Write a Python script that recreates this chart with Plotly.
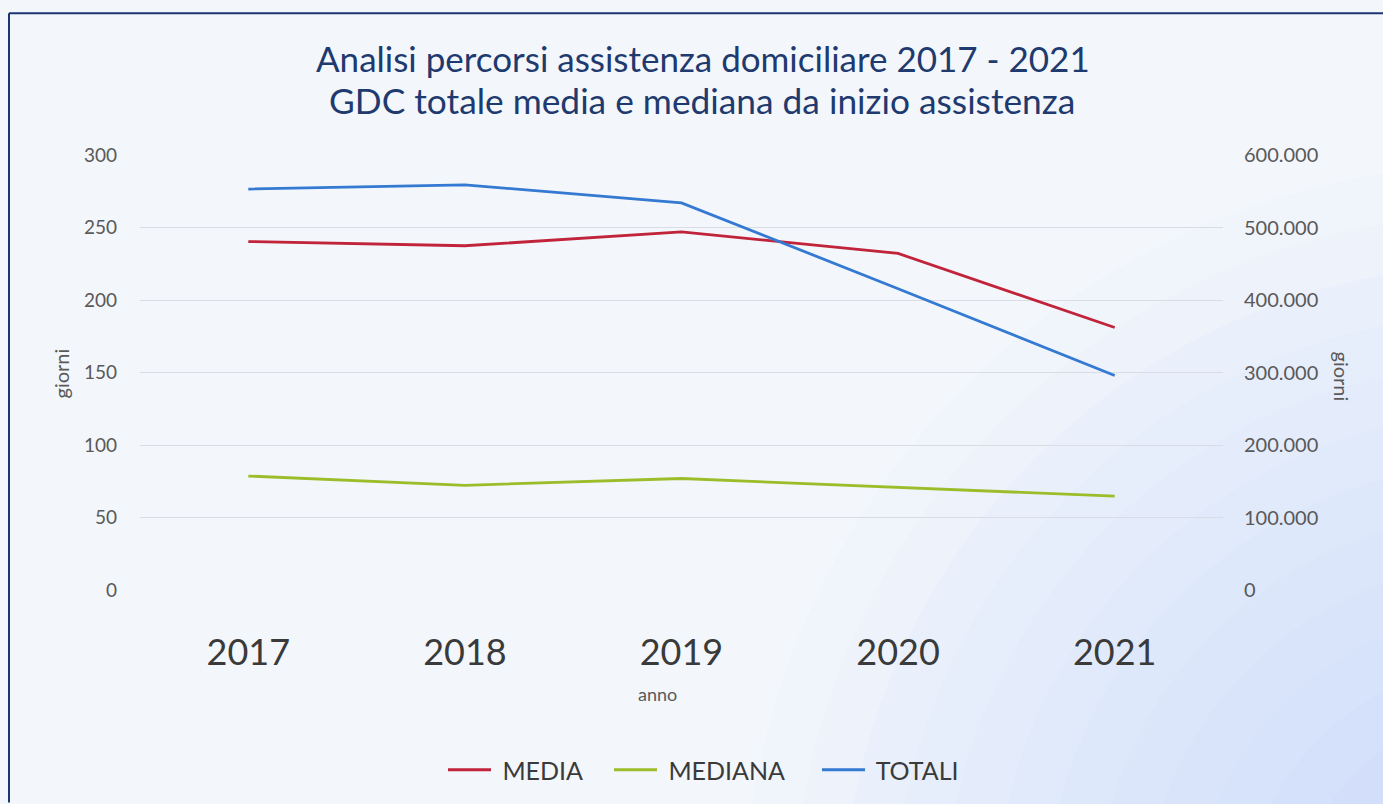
import plotly.graph_objects as go

# Anni e serie (giorni di cura)
anni = ["2017", "2018", "2019", "2020", "2021"]
media = [240.3, 237.4, 247.0, 232.1, 181.0]
mediana = [78.6, 72.2, 76.9, 70.9, 64.7]
totali = [553000, 558800, 534000, 415600, 295900]

left_ticks = [0, 50, 100, 150, 200, 250, 300]
right_ticks = [0, 100000, 200000, 300000, 400000, 500000, 600000]
right_labels = ["0", "100.000", "200.000", "300.000", "400.000", "500.000", "600.000"]

W, H = 1383, 804
L, R, T, B = 140, 1223, 155, 591  # plot area in pixels


def px_x(x):
    return (x - L) / (R - L)


def px_y(y):
    return (B - y) / (B - T)


FONT = "Lato"
GREY = "#595959"
TITLE_BLUE = "#1e3a6e"
LEGEND_Y = px_y(770)

fig = go.Figure()
fig.add_trace(go.Scatter(x=anni, y=media, name=" MEDIA", mode="lines",
                         line=dict(color="#c0233a", width=2.8), legend="legend"))
fig.add_trace(go.Scatter(x=anni, y=mediana, name=" MEDIANA", mode="lines",
                         line=dict(color="#9cbd2a", width=2.8), legend="legend2"))
fig.add_trace(go.Scatter(x=anni, y=totali, name=" TOTALI", mode="lines",
                         line=dict(color="#3479d2", width=2.8), yaxis="y2",
                         legend="legend3"))


def legend_box(x_px):
    return dict(
        orientation="h", x=px_x(x_px), xanchor="left",
        y=LEGEND_Y, yanchor="middle",
        font=dict(size=25, color="#3a3a3a"), bgcolor="rgba(0,0,0,0)",
        itemwidth=43,
    )


fig.update_layout(
    width=W, height=H,
    margin=dict(l=L, r=W - R, t=T, b=H - B, pad=0),
    paper_bgcolor="#f3f6fb",
    plot_bgcolor="rgba(0,0,0,0)",
    separators=",.",
    font=dict(family=FONT, color=GREY),
    xaxis=dict(
        type="category", range=[-0.5, 4.5], showgrid=False, zeroline=False,
        showline=False, ticks="", tickfont=dict(size=36, color="#3a3a3a"),
        ticklabelstandoff=38,
    ),
    yaxis=dict(
        range=[0, 300], tickvals=left_ticks, showgrid=True,
        gridcolor="#d9dce3", gridwidth=1, zeroline=False, showline=False,
        ticks="", tickfont=dict(size=19, color=GREY), ticklabelstandoff=22,
    ),
    yaxis2=dict(
        range=[0, 600000], tickvals=right_ticks, ticktext=right_labels,
        overlaying="y", side="right", showgrid=False, zeroline=False,
        showline=False, ticks="", tickfont=dict(size=20, color=GREY),
        ticklabelstandoff=20,
    ),
    legend=legend_box(443),
    legend2=legend_box(609),
    legend3=legend_box(817),
    showlegend=True,
)

# Leggera sfumatura azzurra verso l'angolo in basso a destra
for i in range(14):
    r = 760 - i * 50
    fig.add_shape(type="circle", xref="paper", yref="paper", layer="below",
                  x0=px_x(W + 120 - r), x1=px_x(W + 120 + r),
                  y0=px_y(H + 120 + r), y1=px_y(H + 120 - r),
                  fillcolor="rgba(150,185,240,0.026)", line=dict(width=0))

# Titolo su due righe
fig.add_annotation(text="Analisi percorsi assistenza domiciliare 2017 - 2021",
                   x=px_x(703), y=px_y(58), xref="paper", yref="paper",
                   xanchor="center", yanchor="middle", showarrow=False,
                   font=dict(size=35, color=TITLE_BLUE))
fig.add_annotation(text="GDC totale media e mediana da inizio assistenza",
                   x=px_x(702), y=px_y(100), xref="paper", yref="paper",
                   xanchor="center", yanchor="middle", showarrow=False,
                   font=dict(size=35.3, color=TITLE_BLUE))

# Titoli degli assi
fig.add_annotation(text="giorni", x=px_x(61), y=px_y(374), xref="paper", yref="paper",
                   xanchor="center", yanchor="middle",
                   textangle=-90, showarrow=False, font=dict(size=20, color=GREY))
fig.add_annotation(text="giorni", x=px_x(1342), y=px_y(377), xref="paper", yref="paper",
                   xanchor="center", yanchor="middle",
                   textangle=90, showarrow=False, font=dict(size=20, color=GREY))
fig.add_annotation(text="anno", x=px_x(657), y=px_y(695), xref="paper", yref="paper",
                   xanchor="center", yanchor="middle",
                   showarrow=False, font=dict(size=18, color=GREY))

# Cornice del riquadro del grafico
frame = dict(color="#1d3473", width=2)
fig.add_shape(type="line", xref="paper", yref="paper",
              x0=px_x(9), x1=px_x(1383), y0=px_y(13), y1=px_y(13), line=frame)
fig.add_shape(type="line", xref="paper", yref="paper",
              x0=px_x(9), x1=px_x(9), y0=px_y(13), y1=px_y(804), line=frame)

fig.write_html("out.html")
